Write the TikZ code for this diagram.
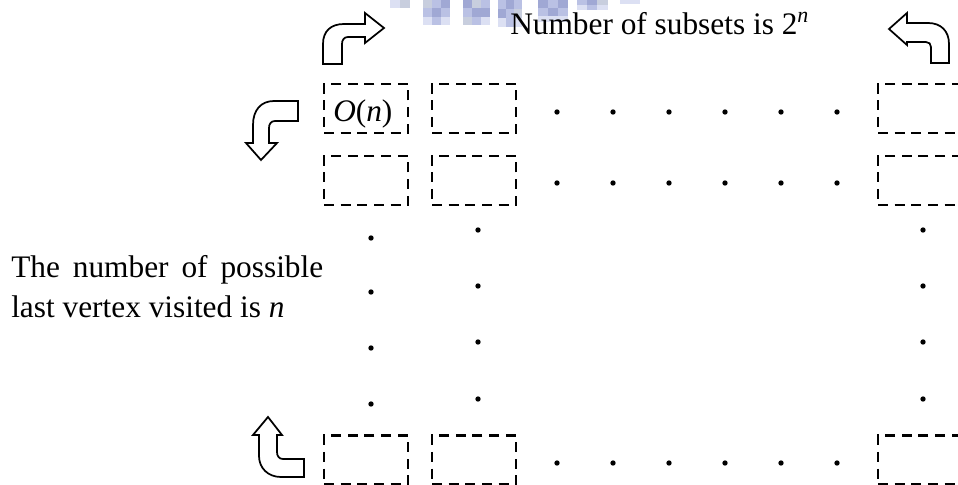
\documentclass[tikz,border=0pt]{standalone}
\usepackage{fontspec}
\setmainfont{Liberation Serif}
\definecolor{lavA}{RGB}{220,224,243}
\definecolor{lavB}{RGB}{186,193,228}
\definecolor{lavC}{RGB}{160,168,212}
\definecolor{lavD}{RGB}{200,206,222}
\begin{document}
\begin{tikzpicture}[x=0.75pt,y=-0.75pt,
  slot/.style={draw=black, line width=1.9pt, dash pattern=on 7.5pt off 5pt,
    rectangle, minimum width=63pt, minimum height=36.75pt, inner sep=0pt},
  bentarrow/.style={draw=black, line width=1.3pt, fill=white, line join=miter},
  pip/.style={fill=black},
  label/.style={inner sep=0pt, font=\fontsize{23.5}{30}\selectfont}]
\useasboundingbox (0,0) rectangle (958,485);
\clip (0,0) rectangle (958,485);

% faded logo strip along the top edge
\foreach \xa/\ya/\xb/\yb/\c in {
  390/0/400/8/lavA, 400/0/410/8/lavD,
  423/0/432/8/lavD, 432/0/441/8/lavB, 441/0/450/8/lavC,
  423/8/432/17/lavB, 432/8/441/17/lavC, 441/8/450/17/lavB,
  423/17/432/25/lavA, 432/17/441/25/lavB, 441/17/450/25/lavA,
  463/0/472/8/lavC, 472/0/481/8/lavD, 481/0/490/8/lavB,
  463/8/472/17/lavB, 472/8/481/17/lavC, 481/8/490/17/lavC,
  463/17/472/25/lavD, 472/17/481/25/lavB, 481/17/490/25/lavA,
  498/0/506/9/lavB, 506/0/514/9/lavC, 514/0/522/9/lavB,
  498/9/506/18/lavC, 506/9/514/18/lavB, 514/9/522/18/lavD,
  498/18/506/27/lavA, 506/18/514/27/lavB, 514/18/522/27/lavA,
  538/0/548/8/lavC, 548/0/558/8/lavB, 558/0/568/8/lavC,
  538/8/548/16/lavB, 548/8/558/16/lavC, 558/8/568/16/lavB,
  538/16/548/22/lavA, 548/16/558/22/lavA, 558/16/568/22/lavA,
  577/0/587/5/lavB, 587/0/597/5/lavC, 597/0/608/5/lavD,
  577/5/587/10/lavA, 587/5/597/10/lavB, 597/5/608/10/lavA,
  620/0/640/4/lavA}
  \fill[\c] (\xa,\ya) rectangle (\xb,\yb);

% table of partial solutions
\node[slot] (r1c1) at (366,108.5) {};
\node[slot] (r1c2) at (474,108.5) {};
\node[slot] (r1cn) at (920,108.5) {};
\node[slot] (r2c1) at (366,180.5) {};
\node[slot] (r2c2) at (474,180.5) {};
\node[slot] (r2cn) at (920,180.5) {};
\node[slot] (rnc1) at (366,460) {};
\node[slot] (rnc2) at (474,460) {};
\node[slot] (rncn) at (920,460) {};

\node[label, anchor=base west] (cost) at (333,122) {\textit{O}(\textit{n})};

% elided columns
\foreach \x in {557,613,669,725,781,837}
  \foreach \y in {112,183,463}
    \fill[pip] (\x,\y) circle[radius=2pt];

% elided rows
\foreach \y in {238,292,348,404}
  \fill[pip] (371,\y) circle[radius=2pt];
\foreach \y in {230,286,342,399} {
  \fill[pip] (478,\y) circle[radius=2pt];
  \fill[pip] (923,\y) circle[radius=2pt];
}

% labels
\node[label, anchor=base west] (subsets) at (510,35)
  {Number of subsets is 2\textsuperscript{\textit{n}}};
\node[label, anchor=base west] (lastline1) at (11,277)
  {\makebox[234pt][s]{The number of possible}};
\node[label, anchor=base west] (lastline2) at (11,317)
  {last vertex visited is \textit{n}};

% bent block arrows
\draw[bentarrow] (323,64) -- (323,44) .. controls (323,31) and (331,24) .. (344,24)
  -- (365,24) -- (365,13) -- (384,28) -- (365,43) -- (365,37) -- (348,37)
  .. controls (344,37) and (342,40) .. (342,44) -- (342,64) -- cycle;
\draw[bentarrow] (949,63) -- (949,44) .. controls (949,31) and (941,23) .. (928,23)
  -- (907,23) -- (907,13) -- (889,29) -- (907,45) -- (907,42) -- (926,42)
  .. controls (929,42) and (931,44) .. (931,47) -- (931,63) -- cycle;
\draw[bentarrow] (298,101) -- (274,101) .. controls (261,101) and (253,110) .. (253,125)
  -- (253,143) -- (246,143) -- (261,160) -- (277,143) -- (269,143) -- (269,128)
  .. controls (269,124) and (271,121) .. (275,121) -- (298,121) -- cycle;
\draw[bentarrow] (268,417) -- (282,435) -- (277,435) -- (277,452)
  .. controls (277,456) and (279,459) .. (283,459) -- (304,459) -- (304,477)
  -- (281,477) .. controls (268,477) and (259,468) .. (259,456) -- (259,435)
  -- (253,435) -- cycle;
\end{tikzpicture}
\end{document}
